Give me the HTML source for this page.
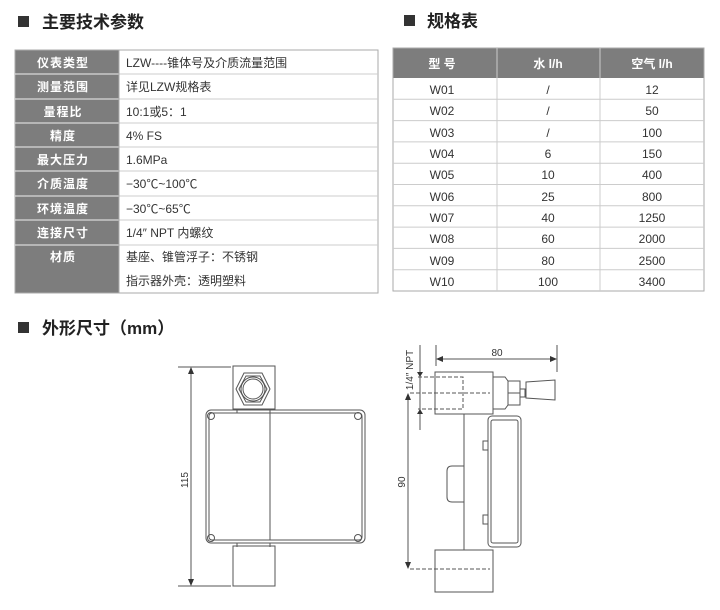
<!DOCTYPE html>
<html><head><meta charset="utf-8"><style>
body{margin:0;background:#fff;width:720px;height:610px;overflow:hidden}
svg{display:block;font-family:"Liberation Sans","Noto Sans CJK SC",sans-serif}
</style></head><body>
<svg width="720" height="610" viewBox="0 0 720 610">
<rect x="18" y="16" width="11" height="11" fill="#333"/>
<text x="42" y="28" font-size="17" font-weight="bold" fill="#222">主要技术参数</text>
<rect x="404" y="15" width="11" height="11" fill="#333"/>
<text x="427" y="27" font-size="17" font-weight="bold" fill="#222">规格表</text>
<rect x="18" y="322" width="11" height="11" fill="#333"/>
<text x="42" y="334" font-size="17" font-weight="bold" fill="#222">外形尺寸（mm）</text>

<g font-size="12">
<rect x="15" y="50" width="104" height="243" fill="#7d7d7d"/>
<rect x="15" y="50" width="363" height="243" fill="none" stroke="#aaa"/>
<g stroke="#ccc"><line x1="119" y1="74" x2="378" y2="74"/><line x1="119" y1="99" x2="378" y2="99"/><line x1="119" y1="123" x2="378" y2="123"/><line x1="119" y1="147" x2="378" y2="147"/><line x1="119" y1="171" x2="378" y2="171"/><line x1="119" y1="196" x2="378" y2="196"/><line x1="119" y1="220" x2="378" y2="220"/><line x1="119" y1="245" x2="378" y2="245"/></g>
<g stroke="#eee"><line x1="15" y1="74" x2="119" y2="74"/><line x1="15" y1="99" x2="119" y2="99"/><line x1="15" y1="123" x2="119" y2="123"/><line x1="15" y1="147" x2="119" y2="147"/><line x1="15" y1="171" x2="119" y2="171"/><line x1="15" y1="196" x2="119" y2="196"/><line x1="15" y1="220" x2="119" y2="220"/><line x1="15" y1="245" x2="119" y2="245"/></g>
<line x1="119" y1="50" x2="119" y2="293" stroke="#aaa"/>
<g fill="#fff" font-weight="bold" text-anchor="middle" letter-spacing="1">
<text x="63" y="67">仪表类型</text><text x="63" y="91">测量范围</text><text x="63" y="116">量程比</text><text x="63" y="140">精度</text><text x="63" y="164">最大压力</text><text x="63" y="188">介质温度</text><text x="63" y="213">环境温度</text><text x="63" y="237">连接尺寸</text><text x="63" y="261">材质</text></g>
<g fill="#333">
<text x="126" y="67">LZW----锥体号及介质流量范围</text><text x="126" y="91">详见LZW规格表</text><text x="126" y="116">10:1或5：1</text><text x="126" y="140">4% FS</text><text x="126" y="164">1.6MPa</text><text x="126" y="188">−30℃~100℃</text><text x="126" y="213">−30℃~65℃</text><text x="126" y="237">1/4″ NPT 内螺纹</text><text x="126" y="261">基座、锥管浮子：不锈钢</text><text x="126" y="285">指示器外壳：透明塑料</text></g>
</g>

<g font-size="12" text-anchor="middle">
<rect x="393" y="48" width="311" height="30" fill="#7d7d7d"/>
<rect x="393" y="48" width="311" height="243" fill="none" stroke="#aaa"/>
<g stroke="#ccc"><line x1="393" y1="99.3" x2="704" y2="99.3"/><line x1="393" y1="120.6" x2="704" y2="120.6"/><line x1="393" y1="141.9" x2="704" y2="141.9"/><line x1="393" y1="163.2" x2="704" y2="163.2"/><line x1="393" y1="184.5" x2="704" y2="184.5"/><line x1="393" y1="205.8" x2="704" y2="205.8"/><line x1="393" y1="227.1" x2="704" y2="227.1"/><line x1="393" y1="248.4" x2="704" y2="248.4"/><line x1="393" y1="269.7" x2="704" y2="269.7"/>
<line x1="497" y1="48" x2="497" y2="291"/><line x1="600" y1="48" x2="600" y2="291"/></g>
<g fill="#fff" font-weight="bold"><text x="442" y="68">型  号</text><text x="548" y="68">水  l/h</text><text x="652" y="68">空气  l/h</text></g>
<g fill="#333">
<text x="442" y="94">W01</text><text x="548" y="94">/</text><text x="652" y="94">12</text>
<text x="442" y="115">W02</text><text x="548" y="115">/</text><text x="652" y="115">50</text>
<text x="442" y="137">W03</text><text x="548" y="137">/</text><text x="652" y="137">100</text>
<text x="442" y="158">W04</text><text x="548" y="158">6</text><text x="652" y="158">150</text>
<text x="442" y="179">W05</text><text x="548" y="179">10</text><text x="652" y="179">400</text>
<text x="442" y="201">W06</text><text x="548" y="201">25</text><text x="652" y="201">800</text>
<text x="442" y="222">W07</text><text x="548" y="222">40</text><text x="652" y="222">1250</text>
<text x="442" y="243">W08</text><text x="548" y="243">60</text><text x="652" y="243">2000</text>
<text x="442" y="265">W09</text><text x="548" y="265">80</text><text x="652" y="265">2500</text>
<text x="442" y="286">W10</text><text x="548" y="286">100</text><text x="652" y="286">3400</text></g>
</g>

<g fill="none" stroke="#555" stroke-width="1">
<line x1="178" y1="367" x2="231" y2="367"/><line x1="178" y1="586" x2="231" y2="586"/>
<line x1="191" y1="370" x2="191" y2="583"/>
<rect x="233" y="366" width="42" height="43"/>
<polygon points="244,373 262,373 270,389 262,405 244,405 236,389"/>
<polygon points="246,376 260,376 267,389 260,402 246,402 239,389"/>
<circle cx="253" cy="389" r="12"/><circle cx="253" cy="389" r="10"/>
<line x1="237" y1="409" x2="237" y2="413"/><line x1="270" y1="409" x2="270" y2="413"/>
<rect x="206" y="410" width="159" height="133" rx="5"/>
<rect x="209" y="413" width="153" height="127" rx="3"/>
<line x1="270" y1="413" x2="270" y2="540"/>
<circle cx="211" cy="416" r="3.5"/><circle cx="358" cy="416" r="3.5"/><circle cx="211" cy="538" r="3.5"/><circle cx="358" cy="538" r="3.5"/>
<line x1="237" y1="543" x2="237" y2="547"/><line x1="270" y1="543" x2="270" y2="547"/>
<rect x="233" y="546" width="42" height="40"/>
</g>
<polygon points="191,367 188,374 194,374" fill="#333"/><polygon points="191,586 188,579 194,579" fill="#333"/>
<text transform="translate(188,480) rotate(-90)" font-size="10" fill="#333" text-anchor="middle">115</text>

<g fill="none" stroke="#555" stroke-width="1">
<line x1="436" y1="345" x2="436" y2="366"/><line x1="557" y1="345" x2="557" y2="372"/>
<line x1="440" y1="359" x2="553" y2="359"/>
<rect x="435" y="372" width="58" height="42"/>
<polyline points="493,377 505,377 508,381 508,405 505,409 493,409"/>
<rect x="508" y="381" width="12" height="24"/>
<line x1="508" y1="393" x2="520" y2="393"/>
<rect x="520" y="389" width="5" height="8"/>
<polygon points="526,382 555,380 555,400 526,398"/>
<line x1="420" y1="345" x2="420" y2="430"/>
<line x1="464" y1="414" x2="464" y2="550"/>
<path d="M464,466 H452 Q447,466 447,471 V497 Q447,502 452,502 H464"/>
<rect x="488" y="416" width="33" height="131" rx="4"/>
<rect x="491" y="420" width="27" height="123" rx="2"/>
<rect x="483" y="441" width="5" height="9"/><rect x="483" y="515" width="5" height="9"/>
<rect x="435" y="550" width="58" height="42"/>
<line x1="408" y1="396" x2="408" y2="566"/>
</g>
<g fill="none" stroke="#555" stroke-dasharray="4,2">
<polyline points="418,377 463,377 463,409 418,409"/>
<line x1="410" y1="393" x2="490" y2="393"/>
<line x1="410" y1="569" x2="490" y2="569"/>
</g>
<g fill="#333">
<polygon points="436,359 443,356 443,362"/><polygon points="557,359 550,356 550,362"/>
<polygon points="408,393 405,400 411,400"/><polygon points="408,569 405,562 411,562"/>
<polygon points="420,377 417,372 423,372"/><polygon points="420,409 417,414 423,414"/>
</g>
<text x="497" y="356" font-size="10" fill="#333" text-anchor="middle">80</text>
<text transform="translate(413,370) rotate(-90)" font-size="10" fill="#333" text-anchor="middle">1/4″ NPT</text>
<text transform="translate(405,482) rotate(-90)" font-size="10" fill="#333" text-anchor="middle">90</text>
</svg>
</body></html>
